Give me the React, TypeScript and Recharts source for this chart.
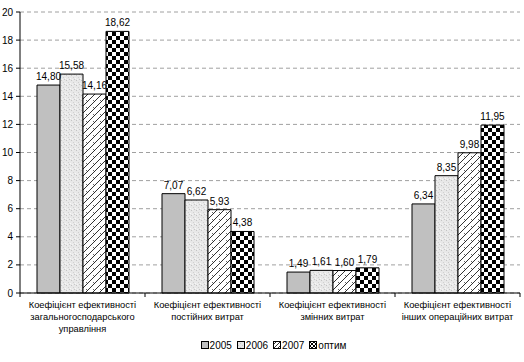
import React from "react";
import { BarChart, Bar, XAxis, YAxis, CartesianGrid, LabelList, Legend } from "recharts";

const categories = [
  "Коефіцієнт ефективності\nзагальногосподарського\nуправління",
  "Коефіцієнт ефективності\nпостійних витрат",
  "Коефіцієнт ефективності\nзмінних витрат",
  "Коефіцієнт ефективності\nінших операційних витрат",
];
const v2005 = [14.8, 7.07, 1.49, 6.34];
const v2006 = [15.58, 6.62, 1.61, 8.35];
const v2007 = [14.16, 5.93, 1.6, 9.98];
const vOptim = [18.62, 4.38, 1.79, 11.95];
const yTicks = [0, 2, 4, 6, 8, 10, 12, 14, 16, 18, 20];

const seriesNames = ["2005", "2006", "2007", "оптим"];
const seriesKeys = ["s2005", "s2006", "s2007", "sOptim"];
const seriesFills = ["#c0c0c0", "url(#speckle)", "url(#hatch)", "url(#checker)"];

const data = categories.map((c, i) => ({
  name: c,
  s2005: v2005[i],
  s2006: v2006[i],
  s2007: v2007[i],
  sOptim: vOptim[i],
}));

const FONT = "Arial, 'Liberation Sans', sans-serif";

const fmt = (v: any) => Number(v).toFixed(2).replace(".", ",");

const XTick = (props: any) => {
  const { x, y, payload, index } = props;
  const half = payload && payload.offset ? payload.offset : 62.5;
  const lines = String(payload.value).split("\n");
  return (
    <g>
      <line x1={x - half} x2={x - half} y1={y - 4} y2={y} stroke="#000" />
      {index === categories.length - 1 && (
        <line x1={x + half} x2={x + half} y1={y - 4} y2={y} stroke="#000" />
      )}
      {lines.map((l, i) => (
        <text
          key={i}
          x={x}
          y={y + 11 + i * 12}
          textAnchor="middle"
          fontSize={9.3}
          fontFamily={FONT}
          fill="#000"
        >
          {l}
        </text>
      ))}
    </g>
  );
};

const LegendContent = () => (
  <div
    style={{
      display: "flex",
      justifyContent: "center",
      alignItems: "center",
      height: 24,
      paddingLeft: 32,
      fontFamily: FONT,
      fontSize: 10,
      color: "#000",
    }}
  >
    {seriesNames.map((n, i) => (
      <span key={n} style={{ display: "inline-flex", alignItems: "center", marginRight: 5 }}>
        <svg width={8} height={8} style={{ marginRight: 1 }}>
          <rect x={0.5} y={0.5} width={7} height={7} fill={seriesFills[i].replace("url(#", "url(#lg-")} stroke="#000" />
        </svg>
        {n}
      </span>
    ))}
  </div>
);

export default function App() {
  return (
    <div style={{ position: "absolute", left: 0, top: 0, background: "#fff" }}>
      <svg width={0} height={0} style={{ position: "absolute" }}>
        <defs>
          <pattern id="lg-speckle" width={4} height={4} patternUnits="userSpaceOnUse">
            <rect width={4} height={4} fill="#e6e6e6" />
            <rect x={1} y={0} width={1} height={1} fill="#c8c8c8" />
            <rect x={3} y={2} width={1} height={1} fill="#c8c8c8" />
          </pattern>
          <pattern id="lg-hatch" width={4} height={4} patternUnits="userSpaceOnUse">
            <rect width={4} height={4} fill="#fff" />
            <path d="M0,4 L4,0" stroke="#000" strokeWidth={0.8} />
          </pattern>
          <pattern id="lg-checker" width={4} height={4} patternUnits="userSpaceOnUse">
            <rect width={4} height={4} fill="#fff" />
            <rect x={0} y={0} width={2} height={2} fill="#000" />
            <rect x={2} y={2} width={2} height={2} fill="#000" />
          </pattern>
        </defs>
      </svg>
      <BarChart
        width={524}
        height={362}
        data={data}
        margin={{ top: 12, right: 4, bottom: 5, left: 0 }}
        barCategoryGap="13.6%"
        barGap={0}
      >
        <defs>
          <pattern id="speckle" width={5} height={5} patternUnits="userSpaceOnUse">
            <rect width={5} height={5} fill="#e8e8e8" />
            <rect x={1} y={0} width={1} height={1} fill="#c4c4c4" />
            <rect x={3} y={2} width={1} height={1} fill="#d0d0d0" />
            <rect x={0} y={3} width={1} height={1} fill="#f8f8f8" />
            <rect x={4} y={4} width={1} height={1} fill="#c8c8c8" />
            <rect x={2} y={4} width={1} height={1} fill="#f4f4f4" />
          </pattern>
          <pattern id="hatch" width={7} height={7} patternUnits="userSpaceOnUse">
            <rect width={7} height={7} fill="#fff" />
            <path d="M0,7 L7,0 M-1,1 L1,-1 M6,8 L8,6" stroke="#000" strokeWidth={0.8} />
            <path d="M2,2 L3.5,3.5" stroke="#000" strokeWidth={0.6} />
          </pattern>
          <pattern id="checker" width={8} height={8} patternUnits="userSpaceOnUse">
            <rect width={8} height={8} fill="#fff" />
            <rect x={0} y={0} width={4} height={4} fill="#000" />
            <rect x={4} y={4} width={4} height={4} fill="#000" />
          </pattern>
        </defs>
        <CartesianGrid vertical={false} stroke="#a0a0a0" strokeDasharray="4 3" />
        <XAxis
          dataKey="name"
          interval={0}
          height={40}
          tickLine={false}
          tickSize={4}
          tickMargin={0}
          axisLine={{ stroke: "#000" }}
          tick={<XTick />}
        />
        <YAxis
          width={20}
          domain={[0, 20]}
          ticks={yTicks}
          interval={0}
          tickSize={4}
          tickMargin={3}
          axisLine={{ stroke: "#000" }}
          tickLine={{ stroke: "#000" }}
          tick={{ fontSize: 10, fill: "#000", fontFamily: FONT }}
        />
        <Legend verticalAlign="bottom" content={<LegendContent />} />
        {seriesKeys.map((k, i) => (
          <Bar
            key={k}
            dataKey={k}
            name={seriesNames[i]}
            fill={seriesFills[i]}
            stroke="#000"
            strokeWidth={1}
            isAnimationActive={false}
          >
            <LabelList
              dataKey={k}
              position="top"
              offset={5}
              formatter={fmt}
              style={{ fontSize: 10, fill: "#000", fontFamily: FONT }}
            />
          </Bar>
        ))}
      </BarChart>
    </div>
  );
}
